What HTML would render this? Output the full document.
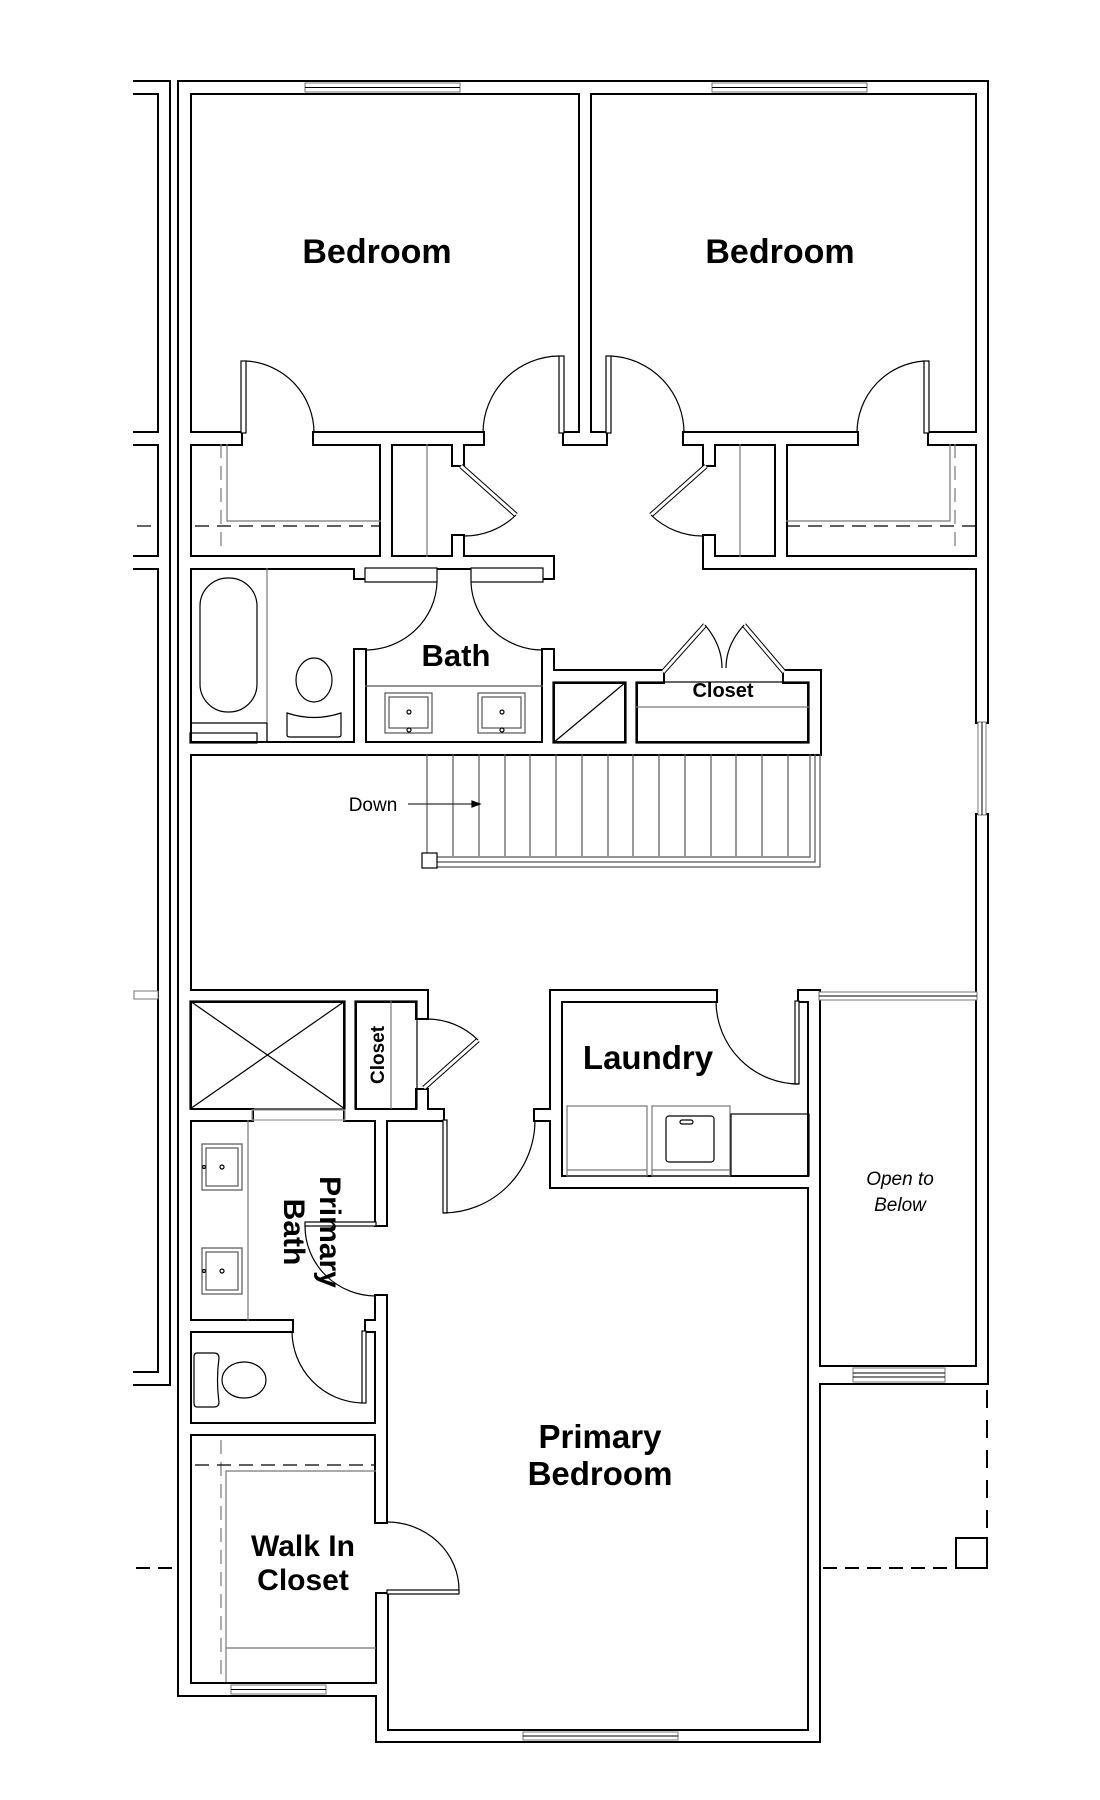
<!DOCTYPE html>
<html><head><meta charset="utf-8"><style>
html,body{margin:0;padding:0;background:#fff}
svg{display:block}
text{font-family:"Liberation Sans",sans-serif;fill:#000}
.b{font-weight:bold}
</style></head><body>
<svg width="1100" height="1800" viewBox="0 0 1100 1800" xmlns="http://www.w3.org/2000/svg">
<defs>
<g id="walls">
<!-- neighbor -->
<rect x="159" y="82" width="10" height="1302"/>
<rect x="120" y="82" width="49" height="11"/>
<rect x="120" y="433" width="49" height="11"/>
<rect x="120" y="557" width="49" height="11"/>
<rect x="120" y="1373" width="49" height="11"/>
<!-- outer -->
<rect x="179" y="82" width="808" height="11"/>
<rect x="179" y="82" width="11" height="1613"/>
<rect x="977" y="82" width="10" height="640"/>
<rect x="977" y="815" width="10" height="568"/>
<rect x="809" y="1367" width="178" height="16"/>
<rect x="809" y="991" width="10" height="750"/>
<rect x="377" y="1731" width="442" height="10"/>
<rect x="377" y="1594" width="10" height="147"/>
<rect x="179" y="1684" width="208" height="11"/>
<!-- bedroom divider and bottom -->
<rect x="580" y="82" width="10" height="362"/>
<rect x="190" y="433" width="51" height="11"/>
<rect x="314" y="433" width="169" height="11"/>
<rect x="564" y="433" width="42" height="11"/>
<rect x="684" y="433" width="173" height="11"/>
<rect x="929" y="433" width="48" height="11"/>
<!-- closets -->
<rect x="381" y="433" width="10" height="135"/>
<rect x="453" y="433" width="10" height="32"/>
<rect x="453" y="536" width="10" height="32"/>
<rect x="179" y="557" width="374" height="11"/>
<rect x="543" y="557" width="10" height="21"/>
<rect x="355" y="557" width="10" height="21"/>
<rect x="704" y="433" width="10" height="32"/>
<rect x="704" y="536" width="10" height="32"/>
<rect x="704" y="557" width="273" height="11"/>
<rect x="776" y="433" width="10" height="124"/>
<!-- bath -->
<rect x="355" y="650" width="10" height="100"/>
<rect x="543" y="650" width="10" height="100"/>
<rect x="179" y="743" width="641" height="11"/>
<rect x="543" y="671" width="120" height="11"/>
<rect x="784" y="671" width="36" height="11"/>
<rect x="809" y="671" width="11" height="83"/>
<rect x="626" y="682" width="10" height="61"/>
<!-- lower -->
<rect x="179" y="991" width="248" height="10"/>
<rect x="417" y="991" width="10" height="27"/>
<rect x="417" y="1090" width="10" height="30"/>
<rect x="345" y="991" width="10" height="129"/>
<rect x="179" y="1110" width="73" height="10"/>
<rect x="345" y="1110" width="98" height="10"/>
<rect x="535" y="1110" width="26" height="10"/>
<rect x="551" y="991" width="10" height="196"/>
<rect x="551" y="991" width="165" height="10"/>
<rect x="799" y="991" width="20" height="10"/>
<rect x="551" y="1177" width="268" height="10"/>
<rect x="376" y="1110" width="10" height="115"/>
<rect x="376" y="1296" width="10" height="226"/>
<rect x="179" y="1321" width="113" height="10"/>
<rect x="366" y="1321" width="20" height="10"/>
<rect x="179" y="1424" width="207" height="10"/>
</g>
</defs>
<g fill="#000" stroke="#000" stroke-width="4"><use href="#walls"/></g>
<g fill="#fff"><use href="#walls"/></g>
<rect x="0" y="0" width="133" height="1800" fill="#fff"/>

<g fill="none" stroke="#000" stroke-width="1.2">
<!-- windows -->
<g fill="#fff" stroke="#777" stroke-width="1">
<rect x="305" y="83" width="155" height="9"/><line x1="305" y1="87.5" x2="460" y2="87.5" stroke="#000"/>
<rect x="712" y="83" width="155" height="9"/><line x1="712" y1="87.5" x2="867" y2="87.5" stroke="#000"/>
<rect x="978" y="722" width="8" height="93"/><line x1="982" y1="722" x2="982" y2="815" stroke="#000"/>
<rect x="819" y="992" width="158" height="8"/><line x1="819" y1="996" x2="977" y2="996" stroke="#000"/>
<rect x="853" y="1368" width="92" height="14"/><line x1="853" y1="1373" x2="945" y2="1373" stroke="#000"/><line x1="853" y1="1377" x2="945" y2="1377" stroke="#000"/>
<rect x="523" y="1732" width="155" height="8"/><line x1="523" y1="1736" x2="678" y2="1736" stroke="#000"/>
<rect x="231" y="1685" width="95" height="9"/><line x1="231" y1="1689.5" x2="326" y2="1689.5" stroke="#000"/>
<rect x="134" y="991" width="24" height="8"/>
</g>
<!-- bedroom doors -->
<rect x="241" y="361" width="5" height="72" fill="#fff"/>
<path d="M246 361 A72 72 0 0 1 314 433"/>
<rect x="559" y="356" width="5" height="77" fill="#fff"/>
<path d="M559 356 A77 77 0 0 0 483 433"/>
<rect x="606" y="356" width="5" height="77" fill="#fff"/>
<path d="M611 356 A77 77 0 0 1 684 433"/>
<rect x="924" y="361" width="5" height="72" fill="#fff"/>
<path d="M924 361 A72 72 0 0 0 857 433"/>
<!-- linen doors -->
<line x1="461" y1="466" x2="516" y2="515" stroke-width="5" stroke="#000"/><line x1="461" y1="466" x2="516" y2="515" stroke-width="3" stroke="#fff"/>
<path d="M516 515 A74 74 0 0 1 463 536"/>
<line x1="706" y1="466" x2="651" y2="515" stroke-width="5" stroke="#000"/><line x1="706" y1="466" x2="651" y2="515" stroke-width="3" stroke="#fff"/>
<path d="M651 515 A74 74 0 0 0 704 536"/>
<line x1="427" y1="444" x2="427" y2="557" stroke="#777"/>
<line x1="740" y1="444" x2="740" y2="557" stroke="#777"/>
<!-- bedroom closets shelves -->
<polyline points="227,444 227,521 381,521" stroke="#777"/>
<line x1="195" y1="526" x2="381" y2="526" stroke-dasharray="14 8"/>
<line x1="221" y1="444" x2="221" y2="553" stroke-dasharray="14 8" stroke="#777"/>
<line x1="137" y1="526" x2="159" y2="526" stroke-dasharray="14 8"/>
<polyline points="950,444 950,521 786,521" stroke="#777"/>
<line x1="786" y1="526" x2="977" y2="526" stroke-dasharray="14 8"/>
<line x1="955" y1="444" x2="955" y2="553" stroke-dasharray="14 8" stroke="#777"/>
<!-- bath -->
<rect x="200" y="578" width="57" height="134" rx="28"/>
<line x1="267" y1="568" x2="267" y2="743" stroke="#777"/>
<polyline points="190,723 267,723"/>
<line x1="267" y1="723" x2="267" y2="743"/>
<rect x="190" y="733" width="67" height="10"/>
<ellipse cx="314" cy="680" rx="18" ry="22"/>
<path d="M287 713 Q314 722 341 713 L341 735 Q341 737 338 737 L290 737 Q287 737 287 735 Z"/>
<rect x="365" y="568" width="72" height="14" fill="#fff"/>
<rect x="471" y="568" width="72" height="14" fill="#fff"/>
<path d="M437 582 A72 70 0 0 1 365 650"/>
<path d="M471 582 A72 70 0 0 0 543 650"/>
<line x1="365" y1="686" x2="543" y2="686" stroke="#555"/>
<rect x="385" y="693" width="47" height="40" stroke="#555"/><rect x="389" y="697" width="39" height="31" stroke="#555"/>
<circle cx="409" cy="712" r="2"/><circle cx="409" cy="730" r="2"/>
<rect x="478" y="693" width="47" height="40" stroke="#555"/><rect x="482" y="697" width="39" height="31" stroke="#555"/>
<circle cx="502" cy="712" r="2"/><circle cx="502" cy="730" r="2"/>
<!-- shaft + closet -->
<rect x="553" y="682" width="73" height="61"/>
<line x1="553" y1="743" x2="626" y2="682"/>
<rect x="636" y="682" width="173" height="61"/>
<line x1="636" y1="707" x2="809" y2="707" stroke="#777"/>
<line x1="663" y1="672" x2="705" y2="625" stroke-width="5" stroke="#000"/><line x1="663" y1="672" x2="705" y2="625" stroke-width="3" stroke="#fff"/>
<line x1="784" y1="672" x2="744" y2="625" stroke-width="5" stroke="#000"/><line x1="784" y1="672" x2="744" y2="625" stroke-width="3" stroke="#fff"/>
<path d="M705 625 Q722 645 722 668"/><path d="M744 625 Q726 645 726 668"/>
<!-- stairs -->
<g stroke="#555">
<line x1="427" y1="754" x2="427" y2="856"/><line x1="453" y1="754" x2="453" y2="856"/><line x1="479" y1="754" x2="479" y2="856"/><line x1="505" y1="754" x2="505" y2="856"/><line x1="530" y1="754" x2="530" y2="856"/><line x1="556" y1="754" x2="556" y2="856"/><line x1="582" y1="754" x2="582" y2="856"/><line x1="608" y1="754" x2="608" y2="856"/><line x1="633" y1="754" x2="633" y2="856"/><line x1="659" y1="754" x2="659" y2="856"/><line x1="685" y1="754" x2="685" y2="856"/><line x1="711" y1="754" x2="711" y2="856"/><line x1="736" y1="754" x2="736" y2="856"/><line x1="762" y1="754" x2="762" y2="856"/><line x1="788" y1="754" x2="788" y2="856"/>
<polyline points="437,857 810,857 810,754"/>
<polyline points="437,862 815,862 815,754"/>
<polyline points="437,867 820,867 820,754"/>
</g>
<rect x="422" y="853" width="15" height="15" fill="#fff"/>
<line x1="408" y1="804" x2="478" y2="804" stroke="#333"/>
<path d="M472 801 L480 804 L472 807 Z" fill="#000"/>
<!-- lower section -->
<rect x="190" y="1001" width="155" height="108"/>
<line x1="190" y1="1001" x2="345" y2="1109"/><line x1="345" y1="1001" x2="190" y2="1109"/>
<rect x="252" y="1110" width="93" height="10" stroke="#999"/>
<rect x="355" y="1001" width="62" height="108"/>
<line x1="391" y1="1001" x2="391" y2="1109" stroke="#777"/>
<line x1="424" y1="1088" x2="478" y2="1040" stroke-width="5" stroke="#000"/><line x1="424" y1="1088" x2="478" y2="1040" stroke-width="3" stroke="#fff"/>
<path d="M478 1040 A72 72 0 0 0 427 1019"/>
<rect x="443" y="1120" width="4" height="93" fill="#fff"/>
<path d="M443 1213 A92 93 0 0 0 535 1120"/>
<!-- laundry -->
<rect x="795" y="1001" width="4" height="83" fill="#fff"/>
<path d="M716 1001 A83 83 0 0 0 799 1084"/>
<rect x="567" y="1106" width="80" height="70" stroke="#777"/><line x1="567" y1="1170" x2="647" y2="1170" stroke="#777"/>
<rect x="652" y="1106" width="78" height="70" stroke="#777"/><line x1="652" y1="1170" x2="730" y2="1170" stroke="#777"/>
<rect x="666" y="1116" width="48" height="46" rx="3"/><rect x="680" y="1120" width="13" height="4" rx="2"/>
<rect x="731" y="1114" width="78" height="62"/>
<!-- primary bath -->
<line x1="248" y1="1120" x2="248" y2="1321" stroke="#777"/>
<rect x="202" y="1144" width="40" height="46" stroke="#555"/><rect x="206" y="1148" width="32" height="38" stroke="#555"/>
<circle cx="222" cy="1167" r="2"/><circle cx="204" cy="1167" r="1.5"/>
<rect x="202" y="1248" width="40" height="46" stroke="#555"/><rect x="206" y="1252" width="32" height="38" stroke="#555"/>
<circle cx="222" cy="1271" r="2"/><circle cx="204" cy="1271" r="1.5"/>
<rect x="305" y="1222" width="71" height="4" fill="#fff"/>
<path d="M305 1226 A71 70 0 0 0 376 1296"/>
<rect x="362" y="1331" width="4" height="72" fill="#fff"/>
<path d="M292 1331 A72 72 0 0 0 362 1403"/>
<path d="M197 1353 L214 1353 Q219 1353 219 1358 Q216 1380 219 1402 Q219 1407 214 1407 L197 1407 Q194 1407 194 1403 L194 1357 Q194 1353 197 1353 Z"/>
<ellipse cx="244" cy="1380" rx="22" ry="18"/>
<!-- walk-in -->
<line x1="221" y1="1440" x2="221" y2="1682" stroke-dasharray="14 8" stroke="#777"/>
<line x1="195" y1="1465" x2="376" y2="1465" stroke-dasharray="14 8"/>
<polyline points="376,1471 226,1471 226,1682" stroke="#777"/>
<line x1="226" y1="1648" x2="376" y2="1648" stroke="#777"/>
<rect x="387" y="1590" width="72" height="4" fill="#fff"/>
<path d="M387 1522 A72 68 0 0 1 459 1590"/>
<!-- dashed exterior -->
<line x1="136" y1="1568" x2="177" y2="1568" stroke-dasharray="14 8" stroke-width="2"/>
<line x1="823" y1="1568" x2="956" y2="1568" stroke-dasharray="14 8" stroke-width="2"/>
<line x1="987" y1="1390" x2="987" y2="1538" stroke-dasharray="18 12" stroke-width="2"/>
<rect x="956" y="1538" width="31" height="30" stroke-width="2"/>
</g>

<!-- labels -->
<text class="b" x="377" y="263" font-size="34" text-anchor="middle">Bedroom</text>
<text class="b" x="780" y="263" font-size="34" text-anchor="middle">Bedroom</text>
<text class="b" x="456" y="666" font-size="31" text-anchor="middle">Bath</text>
<text class="b" x="723" y="697" font-size="20" text-anchor="middle">Closet</text>
<text x="373" y="811" font-size="19" text-anchor="middle">Down</text>
<text class="b" font-size="19" text-anchor="middle" transform="translate(384 1055) rotate(-90)">Closet</text>
<text class="b" x="648" y="1069" font-size="33" text-anchor="middle">Laundry</text>
<text x="900" y="1185" font-size="19" font-style="italic" text-anchor="middle">Open to</text>
<text x="900" y="1211" font-size="19" font-style="italic" text-anchor="middle">Below</text>
<text class="b" font-size="30" text-anchor="middle" transform="translate(320 1232) rotate(90)">Primary</text>
<text class="b" font-size="30" text-anchor="middle" transform="translate(284 1232) rotate(90)">Bath</text>
<text class="b" x="600" y="1448" font-size="33" text-anchor="middle">Primary</text>
<text class="b" x="600" y="1485" font-size="33" text-anchor="middle">Bedroom</text>
<text class="b" x="303" y="1556" font-size="30" text-anchor="middle">Walk In</text>
<text class="b" x="303" y="1590" font-size="30" text-anchor="middle">Closet</text>
</svg>
</body></html>
